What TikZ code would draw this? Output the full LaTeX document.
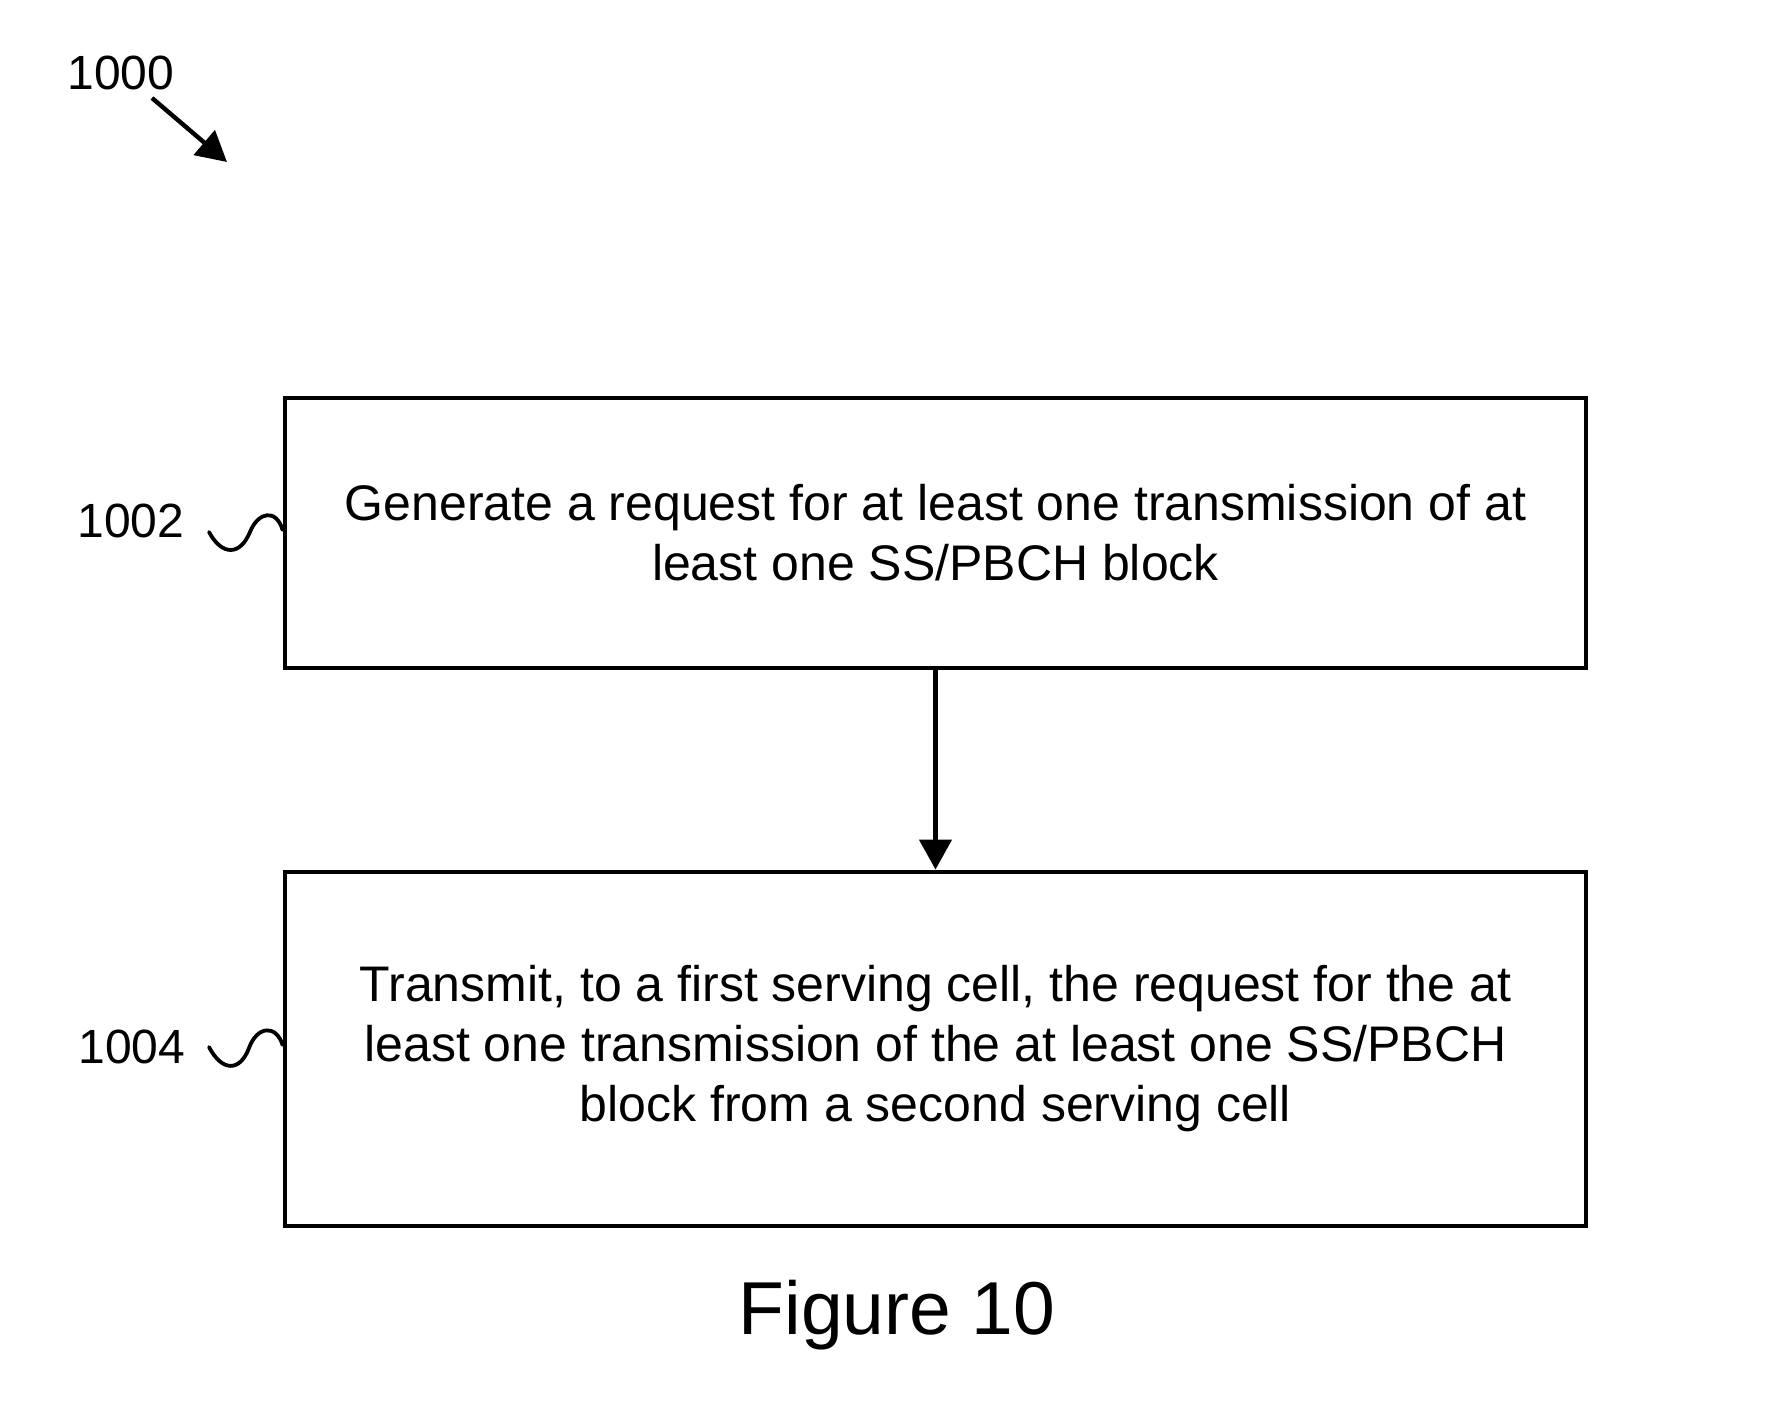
\documentclass[tikz,border=0pt]{standalone}
\usepackage{fontspec}
\setmainfont{Liberation Sans}
\usetikzlibrary{arrows.meta}
\begin{document}
\begin{tikzpicture}[x=0.5pt,y=-0.5pt,
  boxnode/.style={draw, line width=2.4pt, align=center, inner sep=0pt,
    minimum width=650.5pt, font=\fontsize{25pt}{30pt}\selectfont},
  reflabel/.style={anchor=base, inner sep=0pt, font=\fontsize{24pt}{28pt}\selectfont},
  squig/.style={line width=1.9pt, line cap=round},
  flow/.style={line width=2.2pt, -{Triangle[length=15pt,width=16pt]}}]
\useasboundingbox (0,0) rectangle (1772,1401);
\node[boxnode, minimum height=135pt] (b1) at (935.5,533)
  {Generate a request for at least one transmission of at\\least one SS/PBCH block};
\node[boxnode, minimum height=177pt] (b2) at (935.5,1049)
  {Transmit, to a first serving cell, the request for the at\\least one transmission of the at least one SS/PBCH\\block from a second serving cell};
\draw[flow] (b1.south) -- (b2.north);
\node[reflabel] (l0) at (121,90) {1000};
\coordinate (a0s) at (152,98);
\coordinate (a0e) at (227,162);
\draw[line width=2.2pt, -{Triangle[length=15pt,width=16pt]}] (a0s) -- (a0e);
\node[reflabel] (l1) at (131,538) {1002};
\coordinate (s1) at (209,532);
\draw[squig] (s1) .. controls (222,556) and (240,556) .. (250,532)
  .. controls (258,512) and (276,508) .. (b1.west |- 0,530);
\node[reflabel] (l2) at (132,1063) {1004};
\coordinate (s2) at (209,1047);
\draw[squig] (s2) .. controls (222,1072) and (240,1072) .. (249,1048)
  .. controls (257,1026) and (276,1024) .. (b2.west |- 0,1045);
\node[anchor=base, inner sep=0pt, font=\fontsize{37.5pt}{46pt}\selectfont] (fig) at (897,1334) {Figure 10};
\end{tikzpicture}
\end{document}
